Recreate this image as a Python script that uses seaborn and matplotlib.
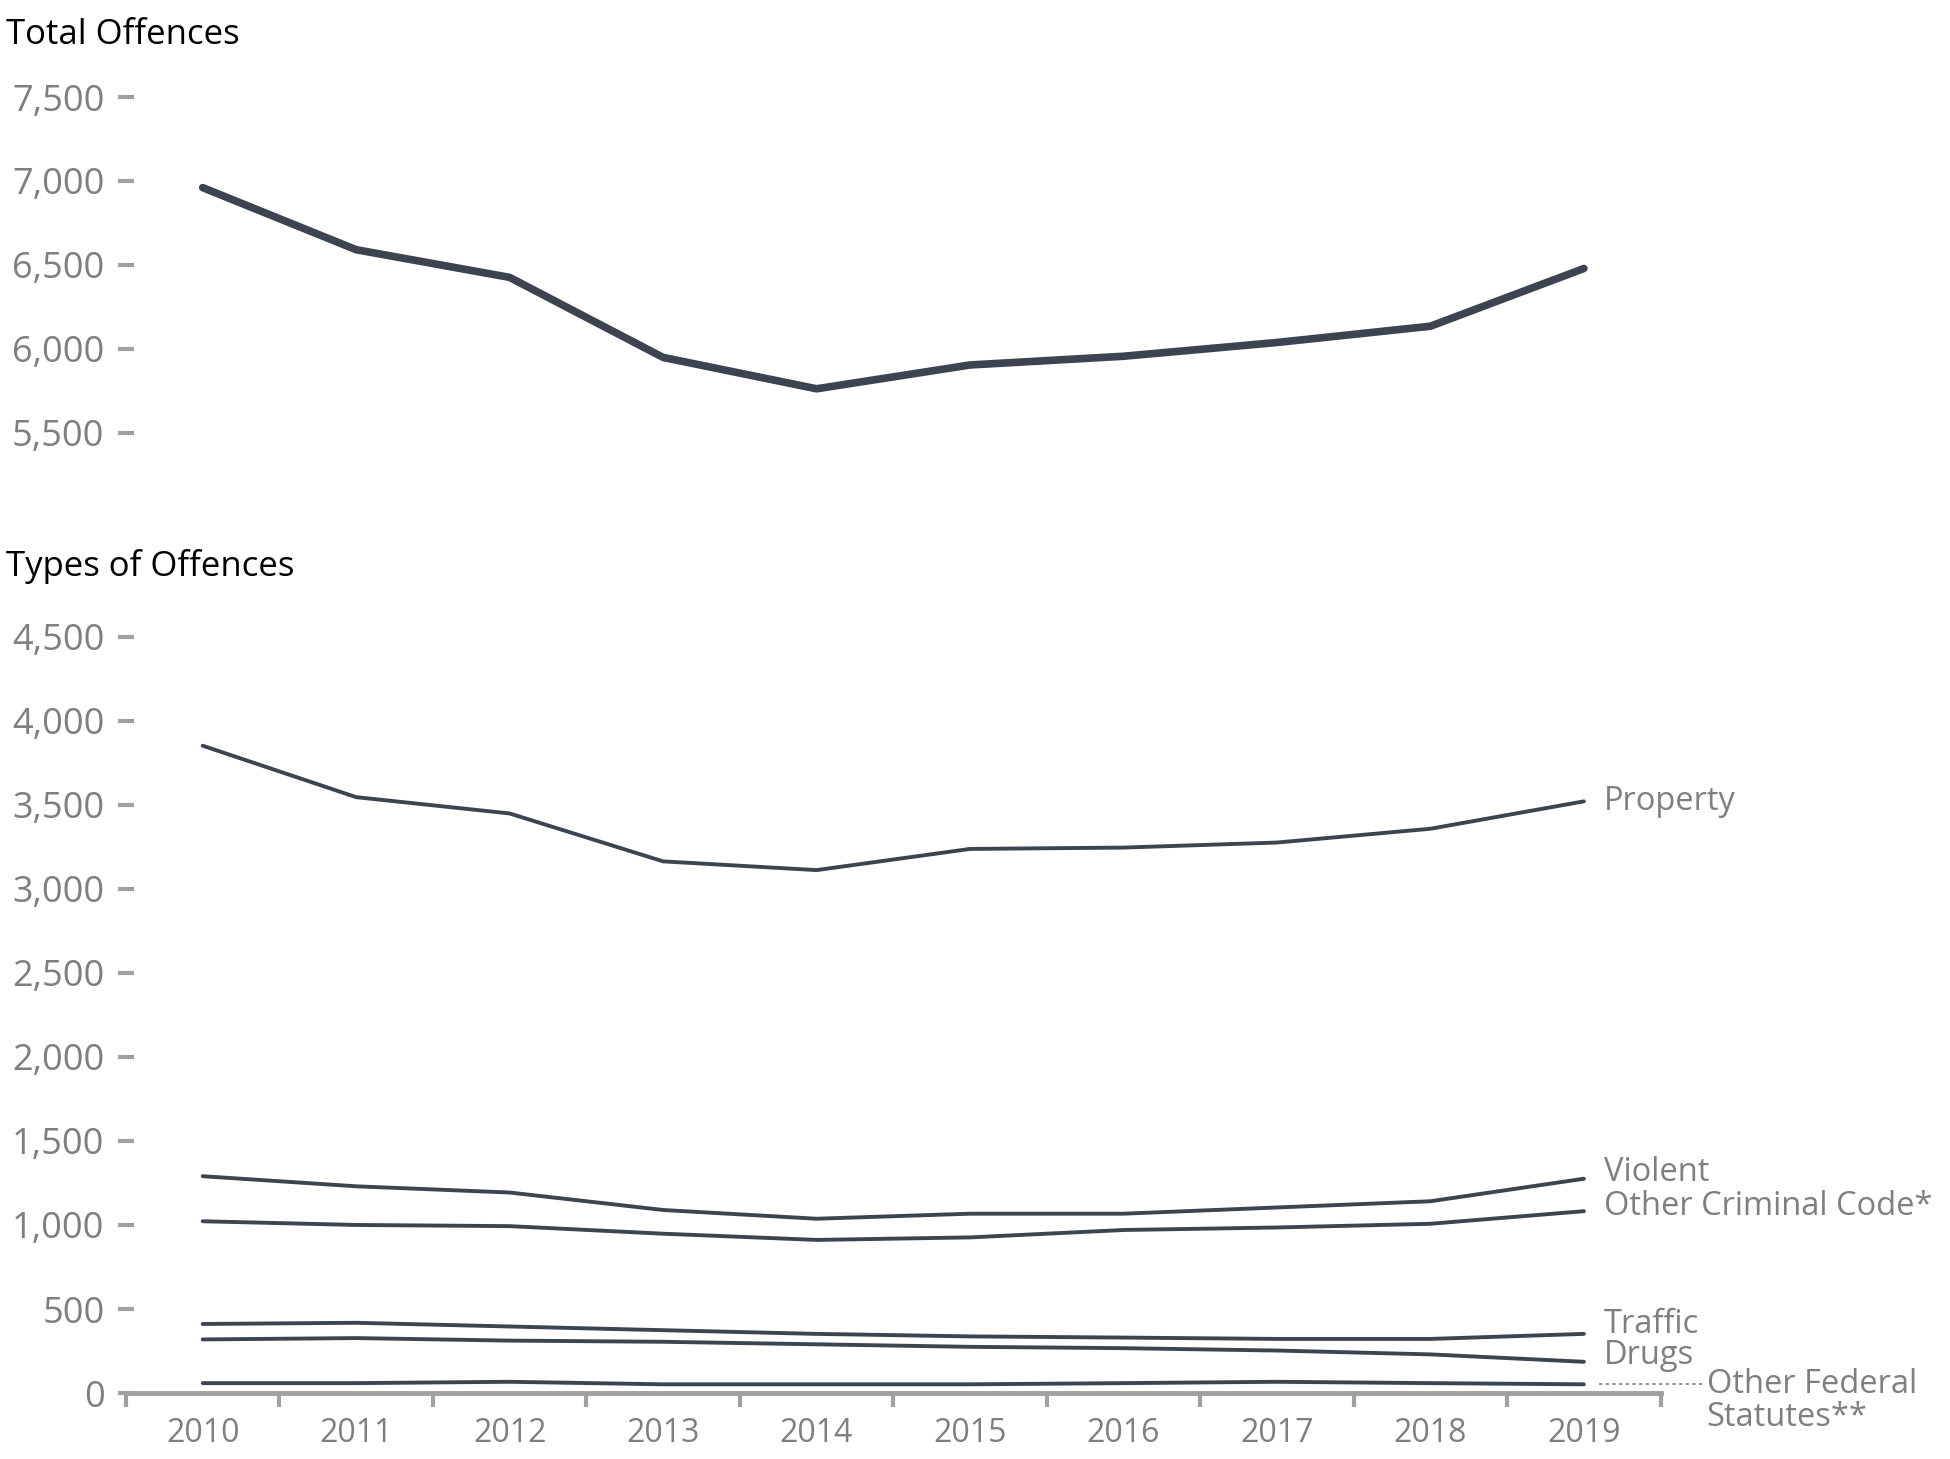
import numpy as np
import pandas as pd
import seaborn as sns
from matplotlib import pyplot as plt
from matplotlib.ticker import FuncFormatter, FixedLocator

years = [2010, 2011, 2012, 2013, 2014, 2015, 2016, 2017, 2018, 2019]

total = [6960, 6590, 6425, 5948, 5761, 5903, 5955, 6037, 6134, 6478]

property_ = [3851, 3545, 3448, 3163, 3111, 3237, 3245, 3275, 3357, 3520]
violent = [1290, 1230, 1193, 1089, 1037, 1067, 1067, 1104, 1141, 1275]
other_cc = [1022, 1000, 993, 948, 911, 926, 970, 985, 1007, 1082]
traffic = [411, 418, 396, 374, 352, 337, 330, 322, 322, 352]
drugs = [319, 327, 312, 305, 290, 275, 267, 253, 230, 186]
other_fed = [59, 59, 67, 52, 52, 52, 59, 67, 59, 52]

type_names = ["Property", "Violent", "Other Criminal Code*", "Traffic", "Drugs",
              "Other Federal\nStatutes**"]
type_values = [property_, violent, other_cc, traffic, drugs, other_fed]

top_ticks = [5500, 6000, 6500, 7000, 7500]
bottom_ticks = [0, 500, 1000, 1500, 2000, 2500, 3000, 3500, 4000, 4500]

LINE = "#3c4452"
GRAY = "#7f7f7f"
TICKC = "#a0a0a0"

sns.set_style("white")
plt.rcParams["font.family"] = ["Open Sans", "DejaVu Sans"]

fig = plt.figure(figsize=(19.5, 14.59), dpi=100)
ax_top = fig.add_axes([0.0646, 0.692, 0.787, 0.253])
ax_bot = fig.add_axes([0.0646, 0.0452, 0.787, 0.5415])

fmt = FuncFormatter(lambda v, p: f"{int(v):,}")

# total offences
df_top = pd.DataFrame({"year": years, "value": total})
sns.lineplot(data=df_top, x="year", y="value", ax=ax_top, color=LINE, linewidth=5.5)
ax_top.set_ylim(5400, 7600)
ax_top.yaxis.set_major_locator(FixedLocator(top_ticks))

# types of offences
long = pd.DataFrame({
    "year": years * len(type_names),
    "value": sum(type_values, []),
    "type": np.repeat(type_names, len(years)),
})
sns.lineplot(data=long, x="year", y="value", hue="type", ax=ax_bot,
             palette=[LINE] * len(type_names), linewidth=2.8, legend=False)
ax_bot.set_ylim(0, 4700)
ax_bot.yaxis.set_major_locator(FixedLocator(bottom_ticks))

for ax in (ax_top, ax_bot):
    ax.set_xlim(2009.5, 2019.5)
    ax.set_xlabel("")
    ax.set_ylabel("")
    ax.yaxis.set_major_formatter(fmt)
    ax.tick_params(axis="y", left=True, direction="inout", length=11, width=3,
                   color=TICKC, labelsize=26, labelcolor=GRAY, pad=10)
    for s in ["top", "right", "left", "bottom"]:
        ax.spines[s].set_visible(False)

ax_top.set_xticks([])

ax_bot.spines["bottom"].set_visible(True)
ax_bot.spines["bottom"].set_color(TICKC)
ax_bot.spines["bottom"].set_linewidth(3.5)
ax_bot.set_xticks(np.arange(2009.5, 2020.5, 1.0))
ax_bot.set_xticklabels([])
ax_bot.tick_params(axis="x", which="major", bottom=True, length=10, width=3, color=TICKC)
ax_bot.set_xticks(years, minor=True)
ax_bot.set_xticklabels([str(y) for y in years], minor=True)
ax_bot.tick_params(axis="x", which="minor", bottom=True, length=0,
                   labelsize=23, labelcolor=GRAY, pad=17)

# end labels
label_y = [3520, 1315, 1107, 409, 223]
for name, yv in zip(type_names[:5], label_y):
    ax_bot.text(2019.13, yv, name, fontsize=23.5, color=GRAY, va="center", ha="left")
ax_bot.plot([2019.1, 2019.77], [52, 52], color=GRAY, linestyle=(0, (2, 2)),
            linewidth=1.2, clip_on=False)
ax_bot.text(2019.8, 150, type_names[5], fontsize=23.5, color=GRAY, va="top", ha="left",
            linespacing=1.0)

fig.text(0.003, 0.976, "Total Offences", fontsize=25, color="black", va="center", ha="left")
fig.text(0.003, 0.612, "Types of Offences", fontsize=25, color="black", va="center", ha="left")

fig.savefig("out.png", dpi=100)
